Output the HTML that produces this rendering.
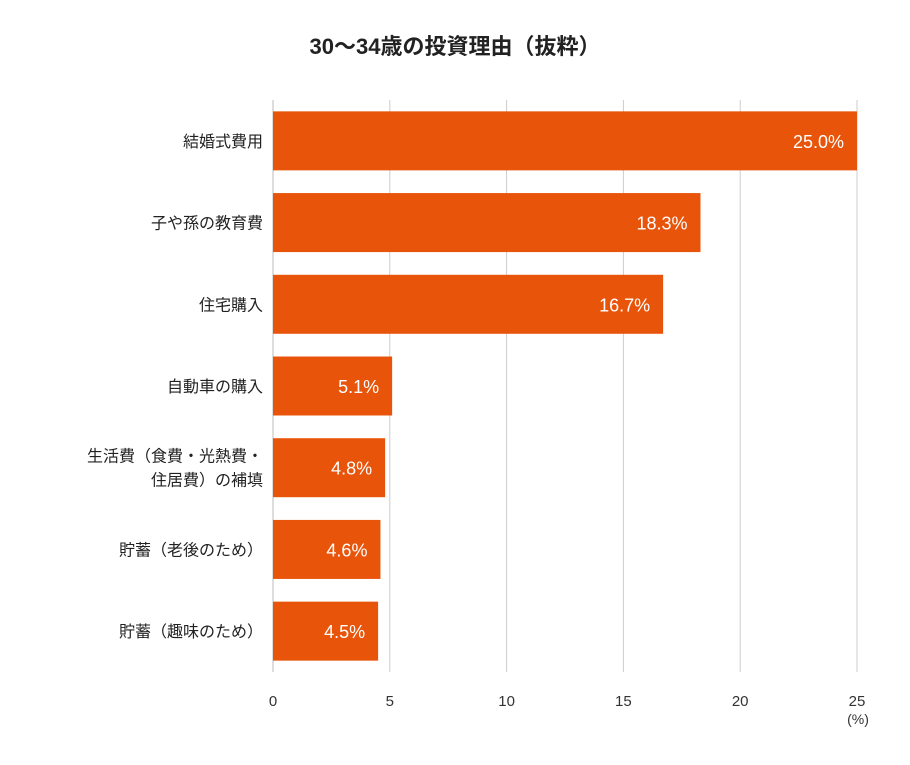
<!DOCTYPE html>
<html><head><meta charset="utf-8"><style>
body{margin:0;background:#fff;width:910px;height:760px;overflow:hidden;font-family:"Liberation Sans","Noto Sans CJK JP",sans-serif;}
</style></head><body>
<svg id="chart" width="910" height="760" xmlns="http://www.w3.org/2000/svg" font-family="Liberation Sans, Noto Sans CJK JP, sans-serif">
<text x="455" y="54" text-anchor="middle" font-size="22" font-weight="bold" fill="#222">30〜34歳の投資理由（抜粋）</text>
<g id="grid"></g><g id="bars"></g><g id="labels"></g>
<text x="858" y="724" text-anchor="middle" font-size="14" fill="#333">(%)</text>
</svg>
<script>
const categories=[["結婚式費用"],["子や孫の教育費"],["住宅購入"],["自動車の購入"],["生活費（食費・光熱費・","住居費）の補填"],["貯蓄（老後のため）"],["貯蓄（趣味のため）"]];
const values=[25.0,18.3,16.7,5.1,4.8,4.6,4.5];
const ticks=[0,5,10,15,20,25];
const NS="http://www.w3.org/2000/svg";
const x0=273,x1=857,yTop=100,yBot=672,maxV=25;
const xs=v=>x0+(x1-x0)*v/maxV;
const band=(yBot-yTop)/categories.length,bh=59;
function mk(t,a,p){const e=document.createElementNS(NS,t);for(const k in a)e.setAttribute(k,a[k]);p.appendChild(e);return e;}
const grid=document.getElementById('grid'),bars=document.getElementById('bars'),labs=document.getElementById('labels');
ticks.forEach(t=>{
 const l=mk('line',{x1:xs(t),x2:xs(t),y1:yTop,y2:yBot,stroke:t===0?'#bbb':'#ccc','stroke-width':1},grid);
 
 
 const tx=mk('text',{x:xs(t),y:706,'text-anchor':'middle','font-size':15,fill:'#333'},grid);
 tx.textContent=t;
 
 
});
categories.forEach((c,i)=>{
 const yc=yTop+band*i+band/2;
 const r=mk('rect',{x:x0,y:yc-bh/2,width:xs(values[i])-x0,height:bh,fill:'#E8540A'},bars);
 
 
 const v=mk('text',{x:xs(values[i])-13,y:yc+7,'text-anchor':'end','font-size':18,fill:'#fff'},labs);
 v.textContent=values[i].toFixed(1)+'%';
 
 
 const n=c.length;
 c.forEach((line,j)=>{
  const t=mk('text',{x:263,y:yc+6+(j-(n-1)/2)*24,'text-anchor':'end','font-size':16,fill:'#222'},labs);
  t.textContent=line;
  
  
 });
});
</script>
</body></html>
